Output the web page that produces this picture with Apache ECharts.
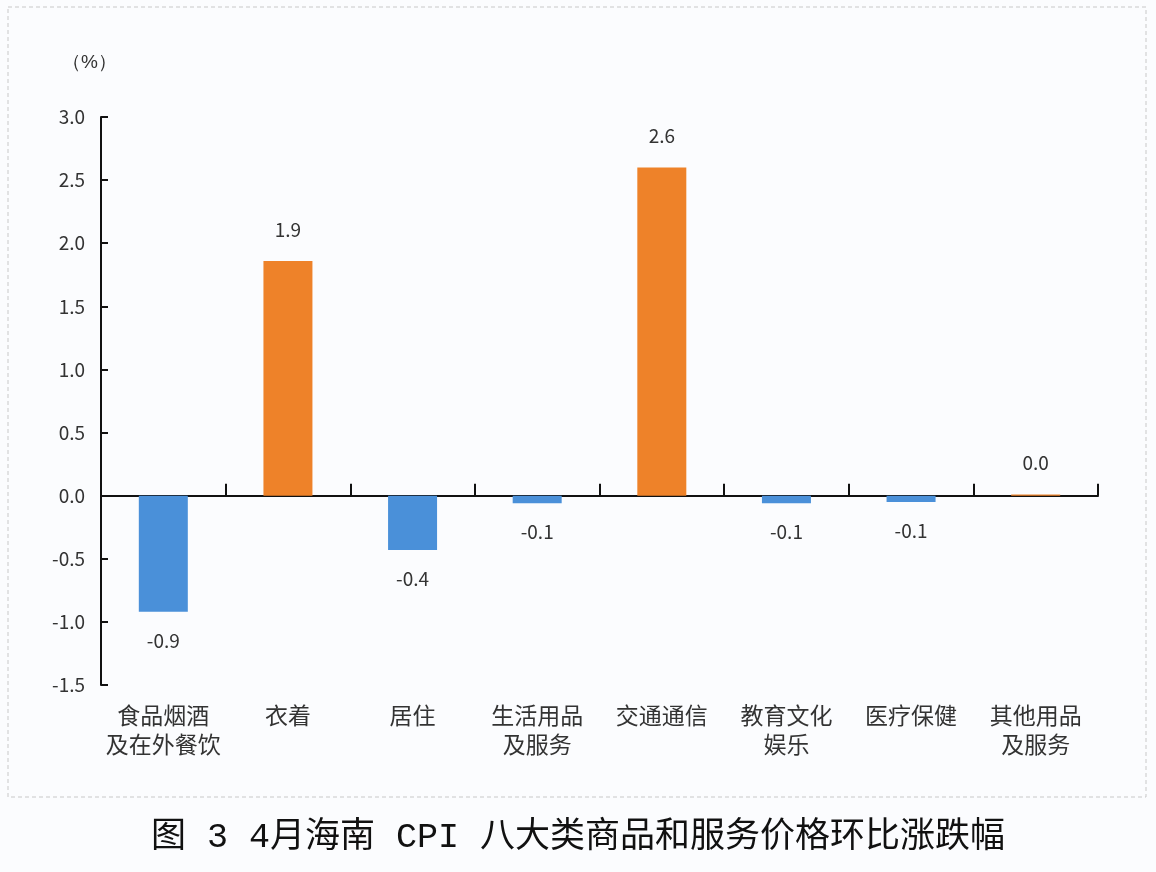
<!DOCTYPE html>
<html>
<head>
<meta charset="utf-8">
<script src="https://cdn.jsdelivr.net/npm/echarts@6/dist/echarts.min.js"></script>
<style>
html,body{margin:0;padding:0;background:#fbfcfe;}
#main{width:1156px;height:872px;}
</style>
</head>
<body>
<div id="main"></div>
<script>
// 类别、数值、标签
var categories = ['食品烟酒\n及在外餐饮', '衣着', '居住', '生活用品\n及服务', '交通通信', '教育文化\n娱乐', '医疗保健', '其他用品\n及服务'];
var values = [-0.92, 1.86, -0.43, -0.06, 2.6, -0.06, -0.05, 0.01];
var labels = ['-0.9', '1.9', '-0.4', '-0.1', '2.6', '-0.1', '-0.1', '0.0'];
var yTicks = [-1.5, -1.0, -0.5, 0.0, 0.5, 1.0, 1.5, 2.0, 2.5, 3.0];

var chart = echarts.init(document.getElementById('main'));

var barData = [];
for (var i = 0; i < values.length; i++) {
	var neg = values[i] < 0;
	barData.push({
		value: values[i],
		itemStyle: {color: neg ? '#4a90d9' : '#ee8229'},
		label: {position: neg ? 'bottom' : 'top', distance: neg ? 19 : 22}
	});
}

var option = {
	backgroundColor: '#fbfcfe',
	textStyle: {fontFamily: '"Noto Sans CJK SC", "Noto Sans", sans-serif'},
	grid: {left: 101, right: 58, top: 117, bottom: 187, containLabel: false},
	graphic: [
		{
			type: 'rect',
			shape: {x: 8, y: 7, width: 1138, height: 790},
			style: {fill: 'none', stroke: '#c8c8c8', lineWidth: 1, lineDash: [4, 3]},
			silent: true
		},
		{
			type: 'text',
			left: 'center',
			top: 820,
			style: {
				text: '图 3 4月海南 CPI 八大类商品和服务价格环比涨跌幅',
				fontSize: 35,
				fill: '#111',
				fontFamily: '"Liberation Mono", "Noto Sans CJK SC", sans-serif'
			}
		},
		{
			type: 'text',
			left: 62,
			top: 53,
			style: {text: '（%）', fontSize: 19, fill: '#333'}
		}
	],
	xAxis: [
		{
			type: 'category',
			data: categories,
			axisLine: {onZero: true, lineStyle: {color: '#111', width: 2}},
			axisTick: {show: true, inside: true, length: 12, lineStyle: {color: '#111', width: 2}},
			axisLabel: {show: false},
			splitLine: {show: false}
		},
		{
			type: 'category',
			data: categories,
			position: 'bottom',
			axisLine: {show: false, onZero: false},
			axisTick: {show: false},
			axisLabel: {
				show: true,
				interval: 0,
				margin: 16,
				fontSize: 23,
				lineHeight: 29,
				color: '#333'
			}
		}
	],
	yAxis: {
		type: 'value',
		min: yTicks[0],
		max: yTicks[yTicks.length - 1],
		interval: 0.5,
		axisLine: {show: true, lineStyle: {color: '#111', width: 2}},
		axisTick: {show: true, inside: true, length: 7, lineStyle: {color: '#111', width: 2}},
		splitLine: {show: false},
		axisLabel: {
			fontSize: 19,
			color: '#333',
			margin: 16,
			formatter: function (v) { return v.toFixed(1); }
		}
	},
	series: [{
		type: 'bar',
		xAxisIndex: 0,
		data: barData,
		barWidth: 49,
		label: {
			show: true,
			fontSize: 19,
			color: '#333',
			formatter: function (p) { return labels[p.dataIndex]; }
		}
	}]
};
chart.setOption(option);
</script>
</body>
</html>
